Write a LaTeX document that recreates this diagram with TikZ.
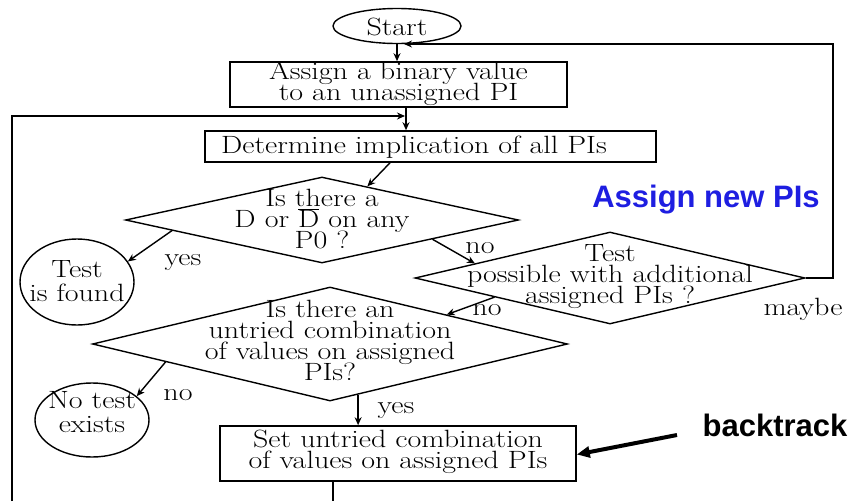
\documentclass[tikz,border=0pt]{standalone}
\usepackage{fontspec}
\setmainfont[FakeStretch=1.2]{Latin Modern Roman}
\setsansfont{Liberation Sans}
\usetikzlibrary{shapes.geometric,arrows.meta,calc}
\definecolor{newblue}{RGB}{30,30,225}
\lineskiplimit=-50pt\relax
\begin{document}
\begin{tikzpicture}[x=1pt,y=-1pt,
  box/.style={draw, rectangle, line width=1.6pt, inner sep=0pt},
  dia/.style={draw, diamond, line width=1.4pt, inner sep=0pt},
  oval/.style={draw, ellipse, line width=1.4pt, inner sep=0pt},
  txt/.style={align=center, inner sep=0pt,
    font=\fontsize{25}{21}\selectfont},
  otxt/.style={align=center, inner sep=0pt,
    font=\fontsize{25}{24}\selectfont},
  lbl/.style={inner sep=0pt, font=\fontsize{25}{21}\selectfont},
  big/.style={inner sep=0pt, font=\fontsize{31}{33}\selectfont\sffamily\bfseries},
  arr/.style={-{Stealth[length=8pt,width=7pt]}, line width=1.4pt},
  ln/.style={line width=1.6pt}]
\useasboundingbox (0,0) rectangle (857,501);

% nodes
\node[oval, minimum width=128pt, minimum height=35pt] (start) at (397,26) {};
\node[otxt] (startT) at (397,27) {Start};
\node[box, minimum width=337pt, minimum height=45pt] (assign) at (398.5,84.5) {};
\node[txt] (assignT) at (398.5,84) {Assign a binary value\\to an unassigned PI};
\node[box, minimum width=451pt, minimum height=31pt] (det) at (430.5,146.5) {};
\node[txt] (detT) at (414,147) {Determine implication of all PIs};

\node[dia, minimum width=393pt, minimum height=86pt] (d1) at (322,220) {};
\node[txt] (d1T) at (322,219) {Is there a\\D or \smash{$\overline{\hbox{D}}$} on any\\P0 ?};

\node[dia, minimum width=390pt, minimum height=92pt] (d2) at (610,278) {};
\node[txt] (d2T) at (610,277) {Test\\possible with additional\\assigned PIs ?};

\node[dia, minimum width=475pt, minimum height=114pt] (d3) at (330,344) {};
\node[txt] (d3T) at (330,340) {Is there an\\untried combination\\of values on assigned\\PIs?};

\node[oval, minimum width=114pt, minimum height=86pt] (tf) at (77,282) {};
\node[otxt] (tfT) at (77,281) {Test\\is found};
\node[oval, minimum width=114pt, minimum height=74pt] (nt) at (92,420) {};
\node[otxt] (ntT) at (92,412) {No test\\exists};

\node[box, minimum width=356pt, minimum height=55pt] (set) at (398,453.5) {};
\node[txt] (setT) at (398,452) {Set untried combination\\of values on assigned PIs};

% labels
\node[lbl] (yes1) at (183,263) {yes};
\node[lbl] (no1) at (480,248) {no};
\node[lbl] (no2) at (487,310) {no};
\node[lbl] (maybe) at (803,309) {maybe};
\node[lbl] (no3) at (178,395) {no};
\node[lbl] (yes3) at (396,411) {yes};
\node[big, text=newblue] (anp) at (706,200) {Assign new PIs};
\node[big] (btk) at (775,425) {backtrack};

% connectors
\draw[arr] (start.south) -- (start.south |- assign.north);
\coordinate (rc) at (833,44);
\coordinate (rl) at (404,44);
\draw[arr] (d2.east) -- (d2.east -| rc) -- (rc) -- (rl);

\draw[arr] ([xshift=7.5pt]assign.south) -- ([xshift=7.5pt]assign.south |- det.north);
\coordinate (bl) at (12,501);
\coordinate (lt) at (12,116);
\draw[arr] (bl) -- (lt) -- (405,116);

\draw[arr] ([xshift=-40.5pt]det.south) -- ($(d1.north)!0.23!(d1.east)$);
\draw[arr] ($(d1.west)!0.24!(d1.south)$) -- (tf.22);
\draw[arr] ($(d1.south)!0.56!(d1.east)$) -- ($(d2.west)!0.31!(d2.north)$);
\draw[arr] ($(d2.west)!0.41!(d2.south)$) -- ($(d3.north)!0.49!(d3.east)$);
\draw[arr] ($(d3.west)!0.31!(d3.south)$) -- (nt.28);
\coordinate (d3s) at ($(d3.south)!0.118!(d3.east)$);
\draw[arr] (d3s) -- (d3s |- set.north);

\coordinate (bb) at (333,501);
\draw[ln] (set.south -| bb) -- (bb);

\coordinate (bts) at (677,435);
\draw[-{Triangle[length=13pt,width=11pt]}, line width=4pt] (bts) -- ([yshift=-1pt]set.east);
\end{tikzpicture}
\end{document}
